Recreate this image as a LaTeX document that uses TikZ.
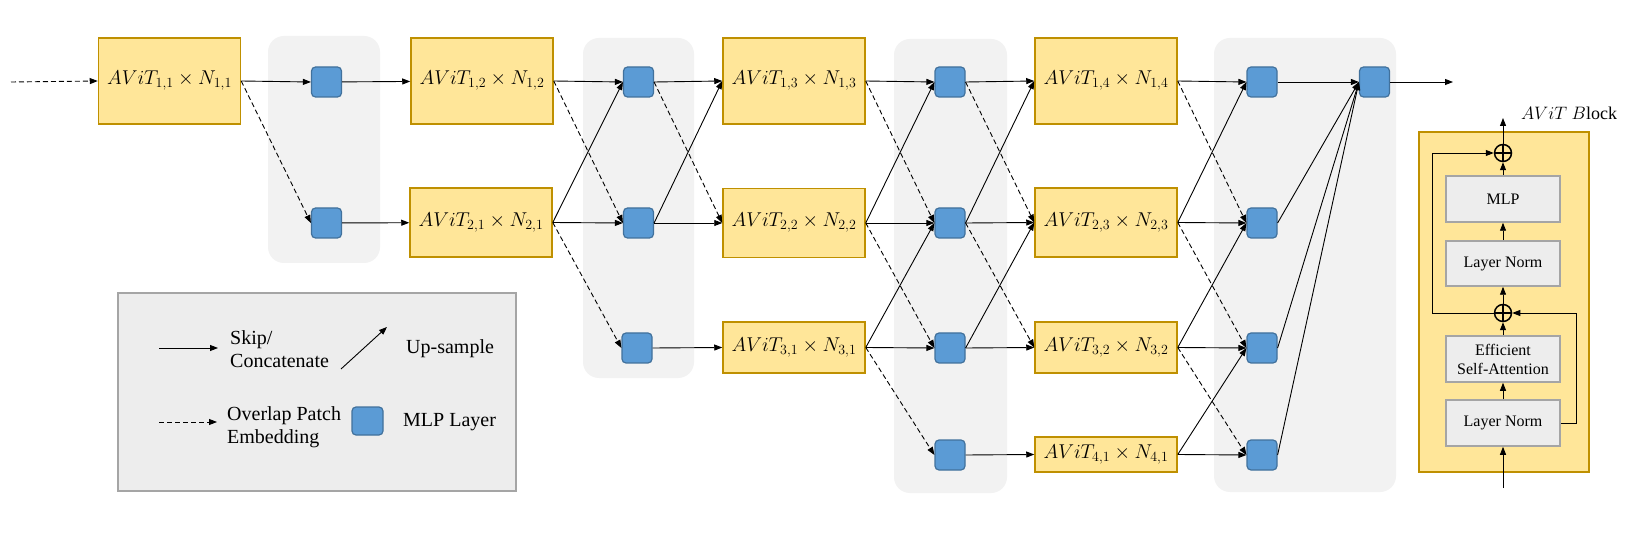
\RequirePackage{fix-cm}
\documentclass[tikz,border=0pt]{standalone}
\usepackage{fontspec}
\IfFontExistsTF{LiberationSerif-Regular.ttf}
  {\setmainfont{LiberationSerif-Regular.ttf}\newfontfamily\labelfont{LiberationSerif-Regular.ttf}}
  {\setmainfont{Liberation Serif}\newfontfamily\labelfont{Liberation Serif}}
\usepackage[dvipsnames]{xcolor}
\usepackage{tikz}
\usetikzlibrary{arrows.meta}

\definecolor{boxfill}{HTML}{FFE699}
\definecolor{boxline}{HTML}{BF9000}
\definecolor{mlpfill}{HTML}{5B9BD5}
\definecolor{mlpline}{HTML}{41719C}
\definecolor{colfill}{HTML}{F2F2F2}
\definecolor{legfill}{HTML}{EDEDED}
\definecolor{legline}{HTML}{A5A5A5}

\begin{document}
\begin{tikzpicture}[x=1pt,y=-1pt]
        \tikzset{avit/.style = {shape=rectangle,draw=boxline,fill=boxfill,line width=1.5pt,minimum width=142pt,inner sep=0pt,font=\fontsize{20}{23}\selectfont},
                 mlp/.style = {shape=rectangle,rounded corners=4pt,draw=mlpline,fill=mlpfill,line width=1.2pt,minimum width=30pt,minimum height=30pt,inner sep=0pt},
                 conn/.style = {-{Triangle[length=8pt,width=6pt]},line width=0.9pt},
                 embed/.style = {conn,dash pattern=on 5pt off 3pt},
                 stage/.style = {fill=colfill,rounded corners=16pt},
                 legtext/.style = {anchor=west,inner sep=0pt,align=left,font=\labelfont\fontsize{20}{23}\selectfont},
                 layer/.style = {shape=rectangle,draw=legline,fill=legfill,line width=1.5pt,minimum width=114pt,inner sep=0pt,align=center,font=\labelfont\fontsize{16}{19}\selectfont},
                 addop/.style = {shape=circle,draw,line width=1.5pt,minimum size=17pt,inner sep=0pt,
                   path picture={\draw[line width=1.5pt] (path picture bounding box.north) -- (path picture bounding box.south)
                     (path picture bounding box.west) -- (path picture bounding box.east);}}}
        \useasboundingbox (0,0) rectangle (1631,537);
        \fill[white] (0,0) rectangle (1631,537);
        % stages
        \fill[stage] (268,36) rectangle (380,263);
        \fill[stage] (583,38) rectangle (694,378);
        \fill[stage] (894,39) rectangle (1007,493);
        \fill[stage] (1214,38) rectangle (1396,492);
        % AViT boxes
        \node[avit,minimum height=86pt] (A11) at (169.5,81) {$AViT_{1,1}\times N_{1,1}$};
        \node[avit,minimum height=86pt] (A12) at (482,81) {$AViT_{1,2}\times N_{1,2}$};
        \node[avit,minimum height=69pt] (A21) at (481,222.5) {$AViT_{2,1}\times N_{2,1}$};
        \node[avit,minimum height=86pt] (A13) at (794,81) {$AViT_{1,3}\times N_{1,3}$};
        \node[avit,minimum height=69pt] (A22) at (794,223) {$AViT_{2,2}\times N_{2,2}$};
        \node[avit,minimum height=51pt] (A31) at (794,347.5) {$AViT_{3,1}\times N_{3,1}$};
        \node[avit,minimum height=86pt] (A14) at (1106,81) {$AViT_{1,4}\times N_{1,4}$};
        \node[avit,minimum height=69pt] (A23) at (1106,222.5) {$AViT_{2,3}\times N_{2,3}$};
        \node[avit,minimum height=51pt] (A32) at (1106,347.5) {$AViT_{3,2}\times N_{3,2}$};
        \node[avit,minimum height=35pt] (A41) at (1106,454.5) {$AViT_{4,1}\times N_{4,1}$};
        % MLP layers
        \node[mlp] (m11) at (326.5,82) {};
        \node[mlp] (m12) at (326.5,223) {};
        \node[mlp] (m21) at (638.5,82) {};
        \node[mlp] (m22) at (638.5,223) {};
        \node[mlp] (m23) at (637,348) {};
        \node[mlp] (m31) at (950,82) {};
        \node[mlp] (m32) at (950,223) {};
        \node[mlp] (m33) at (950,348) {};
        \node[mlp] (m34) at (950,455) {};
        \node[mlp] (m41) at (1262,82) {};
        \node[mlp] (m42) at (1262,223) {};
        \node[mlp] (m43) at (1262,348) {};
        \node[mlp] (m44) at (1262,455) {};
        \node[mlp] (mout) at (1374.5,82) {};
        \coordinate (in) at (11,82);
        \coordinate (out) at (1453,82);
        % connections
        \draw[embed] (in) -- (A11.west);
        \draw[conn] (A11.east) -- (m11.west);
        \draw[embed] (A11.east) -- (m12.west);
        \draw[conn] (m11) -- (A12);
        \draw[conn] (m12) -- (A21);
        \draw[conn] (A12.east) -- (m21.west);
        \draw[embed] (A12.east) -- (m22.west);
        \draw[conn] (A21.east) -- (m21.west);
        \draw[conn] (A21.east) -- (m22.west);
        \draw[embed] (A21.east) -- (m23.west);
        \draw[conn] (m21.east) -- (A13.west);
        \draw[embed] (m21.east) -- (A22.west);
        \draw[conn] (m22.east) -- (A13.west);
        \draw[conn] (m22.east) -- (A22.west);
        \draw[conn] (m23.east) -- (A31.west);
        \draw[conn] (A13.east) -- (m31.west);
        \draw[embed] (A13.east) -- (m32.west);
        \draw[conn] (A22.east) -- (m31.west);
        \draw[conn] (A22.east) -- (m32.west);
        \draw[embed] (A22.east) -- (m33.west);
        \draw[conn] (A31.east) -- (m32.west);
        \draw[conn] (A31.east) -- (m33.west);
        \draw[embed] (A31.east) -- (m34.west);
        \draw[conn] (m31.east) -- (A14.west);
        \draw[embed] (m31.east) -- (A23.west);
        \draw[conn] (m32.east) -- (A14.west);
        \draw[conn] (m32.east) -- (A23.west);
        \draw[embed] (m32.east) -- (A32.west);
        \draw[conn] (m33.east) -- (A23.west);
        \draw[conn] (m33.east) -- (A32.west);
        \draw[conn] (m34.east) -- (A41.west);
        \draw[conn] (A14.east) -- (m41.west);
        \draw[embed] (A14.east) -- (m42.west);
        \draw[conn] (A23.east) -- (m41.west);
        \draw[conn] (A23.east) -- (m42.west);
        \draw[embed] (A23.east) -- (m43.west);
        \draw[conn] (A32.east) -- (m42.west);
        \draw[conn] (A32.east) -- (m43.west);
        \draw[embed] (A32.east) -- (m44.west);
        \draw[conn] (A41.east) -- (m43.west);
        \draw[conn] (A41.east) -- (m44.west);
        \draw[conn] (m41.east) -- (mout.west);
        \draw[conn] (m42.east) -- (mout.west);
        \draw[conn] (m43.east) -- (mout.west);
        \draw[conn] (m44.east) -- (mout.west);
        \draw[conn] (mout) -- (out);
        % legend
        \node[draw=legline,fill=legfill,line width=2pt,minimum width=398pt,minimum height=198pt] (legend) at (317,392) {};
        \coordinate (k1) at (159,348);
        \coordinate (k2) at (218,348);
        \coordinate (u1) at (341,369);
        \coordinate (u2) at (387,327);
        \coordinate (e1) at (159,422);
        \coordinate (e2) at (217,422);
        \draw[conn] (k1) -- (k2);
        \draw[conn] (u1) -- (u2);
        \draw[embed] (e1) -- (e2);
        \node[legtext] (skiptxt) at (230,349) {Skip/\\Concatenate};
        \node[legtext] (uptxt) at (406,349) {Up-sample};
        \node[legtext] (embtxt) at (227,427) {Overlap Patch\\Embedding};
        \node[mlp,minimum width=31pt,minimum height=28pt] (legmlp) at (367.5,421) {};
        \node[legtext] (mlptxt) at (403,422) {MLP Layer};
        % AViT block
        \node[draw=boxline,fill=boxfill,line width=2pt,minimum width=170pt,minimum height=340pt] (block) at (1504,302) {};
        \node[font=\fontsize{18}{21}\selectfont,inner sep=0pt] (blocktxt) at (1569,113) {$AViT~B$lock};
        \node[layer,minimum height=46pt] (ffn) at (1503,199) {MLP};
        \node[layer,minimum height=45pt] (norm2) at (1503,263.5) {Layer Norm};
        \node[layer,minimum height=46pt] (attn) at (1503,359) {Efficient\\Self-Attention};
        \node[layer,minimum height=46pt] (norm1) at (1503,423) {Layer Norm};
        \node[addop] (add2) at (1503,153) {};
        \node[addop] (add1) at (1503,313) {};
        \coordinate (bin) at (1503,488);
        \coordinate (bout) at (1503,118);
        \draw[conn] (bin) -- (norm1);
        \draw[conn] (norm1) -- (attn);
        \draw[conn] (attn) -- (add1);
        \draw[conn] (add1) -- (norm2);
        \draw[conn] (norm2) -- (ffn);
        \draw[conn] (ffn) -- (add2);
        \draw[conn] (add2) -- (bout);
        \draw[conn] (add1.west) -- ++(-61.5,0) |- (add2.west);
        \draw[conn] (norm1.east) -- ++(16,0) |- (add1.east);
\end{tikzpicture}
\end{document}
